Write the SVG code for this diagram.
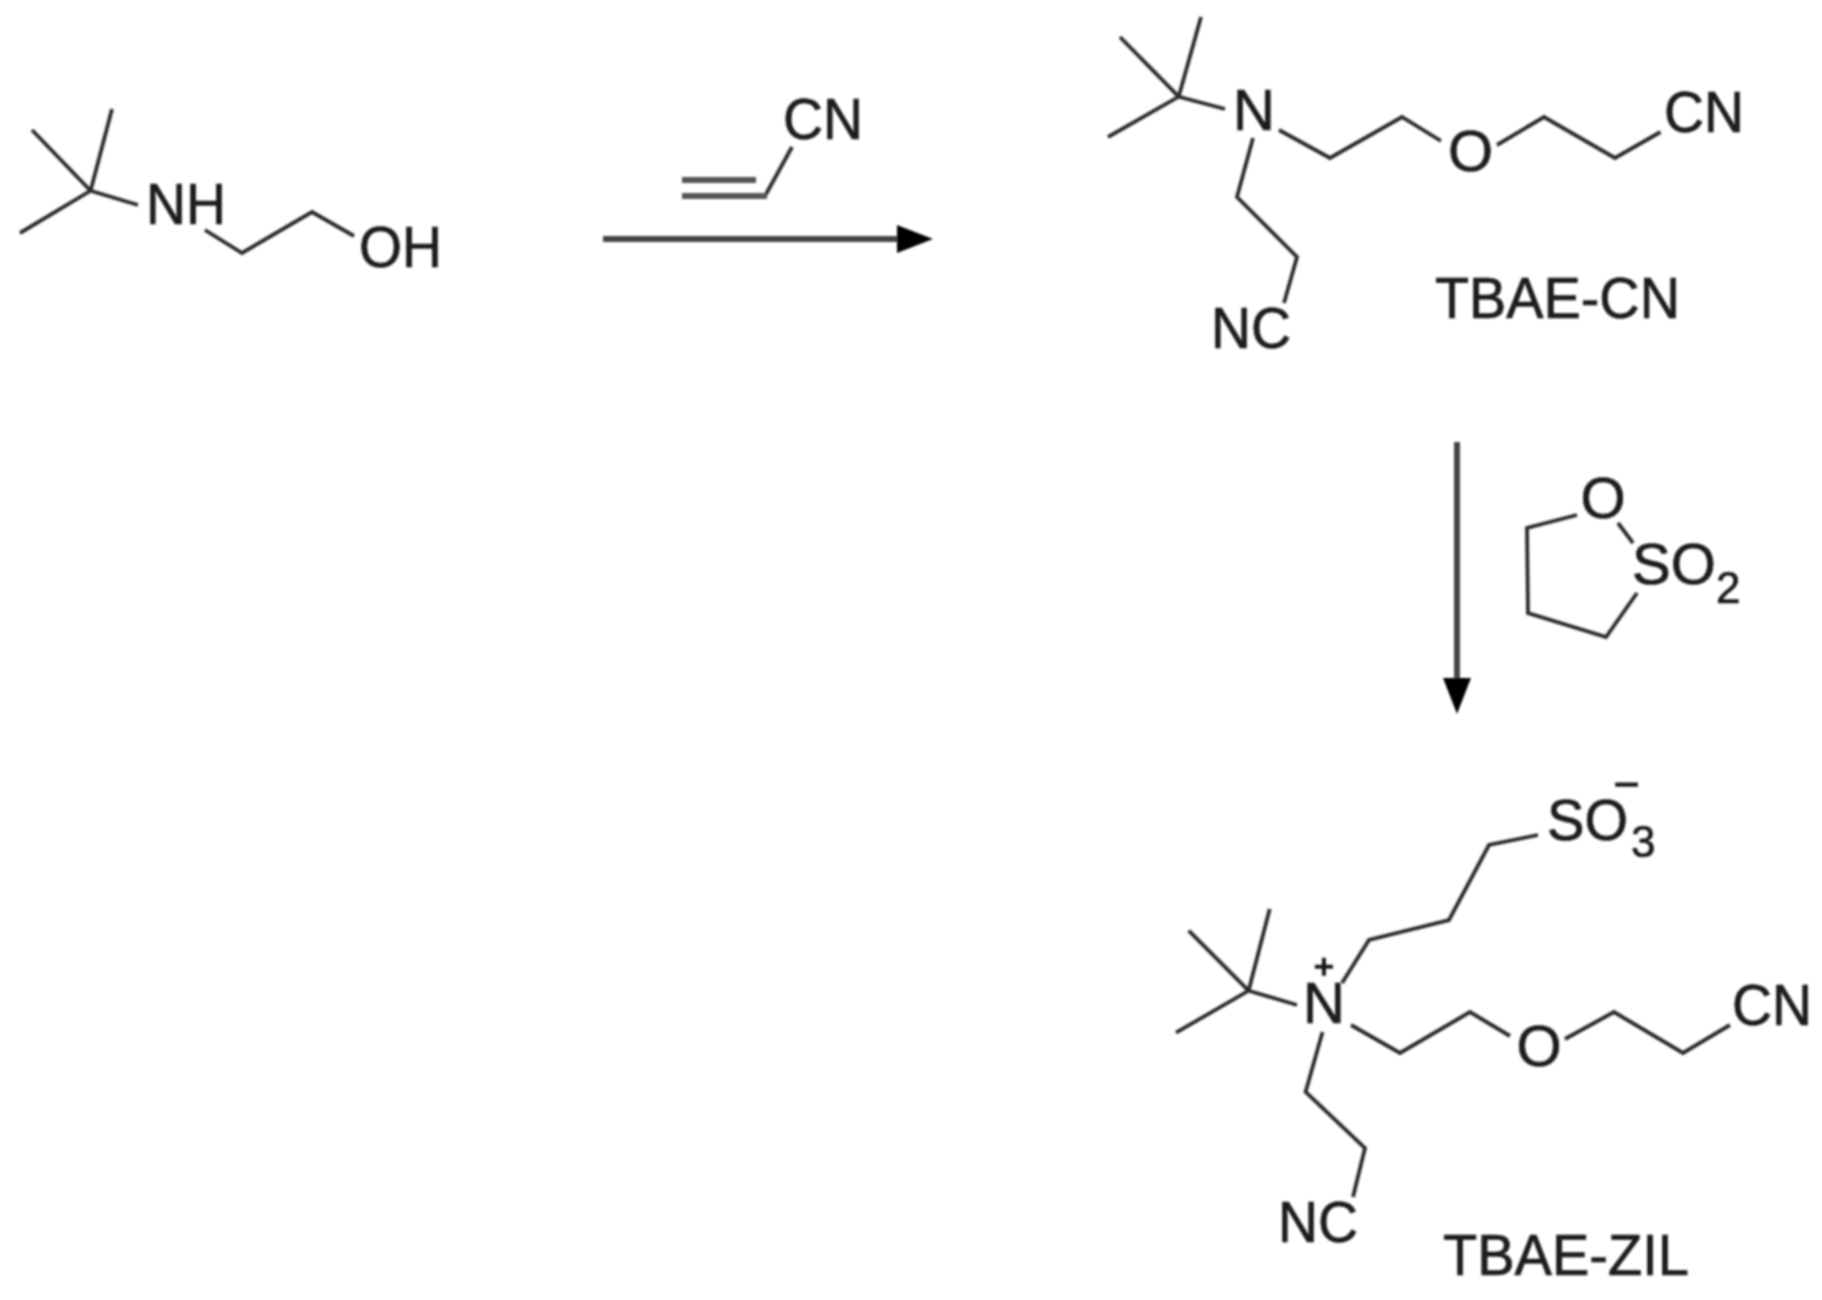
<svg xmlns="http://www.w3.org/2000/svg" width="1822" height="1300" viewBox="0 0 1822 1300">
<style>
text{font-family:"Liberation Sans",Arial,sans-serif;font-size:58px;fill:#1a1a1a;stroke:#1a1a1a;stroke-width:.7}
.sub{font-size:44px}
.mid{text-anchor:middle}
.b{fill:none;stroke:#2a2a2a;stroke-width:3.8;stroke-linejoin:miter;stroke-linecap:butt}
.d{fill:none;stroke:#555;stroke-width:6}
.a{fill:none;stroke:#444;stroke-width:6}
.ch{stroke-width:1.6}
</style>
<defs>
<filter id="soft" x="0" y="0" width="1822" height="1300" filterUnits="userSpaceOnUse"><feGaussianBlur stdDeviation="1.3"/></filter>
<marker id="head" markerUnits="userSpaceOnUse" markerWidth="38" markerHeight="30" refX="0" refY="15" orient="auto"><path d="M0 1L36 15L0 29Z" fill="#000"/></marker>
</defs>
<rect width="1822" height="1300" fill="#fff"/>
<g filter="url(#soft)">
<g id="connectors">
<line class="a" x1="603" y1="239" x2="897" y2="239" marker-end="url(#head)"/>
<line class="a" x1="1457" y1="442" x2="1457" y2="678" marker-end="url(#head)"/>
</g>
<g id="tert-butylaminoethanol">
<path class="b" d="M32 130L90.600 190.700M112 109L90.600 190.700M20 233L90.600 190.700L138 205M205 230L242 253L312 212L354 236"/>
<text x="146" y="224" textLength="80" lengthAdjust="spacingAndGlyphs">NH</text>
<text x="359" y="267" textLength="83" lengthAdjust="spacingAndGlyphs">OH</text>
</g>
<g id="acrylonitrile">
<path class="b" d="M792 147L765 196"/>
<path class="d" d="M767 196H682M682 180H756"/>
<text x="783" y="139" textLength="80" lengthAdjust="spacingAndGlyphs">CN</text>
</g>
<g id="sultone">
<path class="b" d="M1577 515L1527 528L1528 613L1606 637L1637 593M1633 543L1618 523"/>
<text class="mid" x="1603" y="518">O</text>
<text x="1632" y="584">SO</text>
<text class="sub" x="1716" y="603">2</text>
</g>
<g id="tbae-cn">
<path class="b" d="M1120 37L1178.700 96.700M1201 17L1178.700 96.700M1108 137L1178.700 96.700L1225 109M1279 130L1330 158L1402 117L1441 141M1497 145L1544 117L1615 158L1660.500 132M1253 138L1237 197L1297 257L1284 303"/>
<text x="1233" y="130">N</text>
<text class="mid" x="1470.500" y="171">O</text>
<text x="1664" y="132" textLength="80" lengthAdjust="spacingAndGlyphs">CN</text>
<text x="1211" y="348" textLength="80" lengthAdjust="spacingAndGlyphs">NC</text>
<text x="1435" y="318" textLength="245" lengthAdjust="spacingAndGlyphs">TBAE-CN</text>
</g>
<g id="tbae-zil">
<path class="b" d="M1188.700 930.700L1248.600 990.700M1269.700 909L1248.600 990.700M1176 1032.700L1248.600 990.700L1297 1005M1342 983L1369 940L1449 920L1489 845L1538 835M1351 1025L1400 1053L1470 1012L1510 1036M1565 1039L1614 1012L1683 1053L1730 1025M1322.500 1032L1305.600 1092L1365 1148L1353 1197"/>
<text x="1303" y="1023">N</text>
<text class="mid ch" style="font-size:34px" x="1324" y="978">+</text>
<text x="1547" y="840" textLength="81" lengthAdjust="spacingAndGlyphs">SO</text>
<text class="sub" x="1631" y="857">3</text>
<text class="ch" style="font-size:38px" x="1616" y="795">–</text>
<text class="mid" x="1539" y="1066">O</text>
<text x="1732" y="1025" textLength="80" lengthAdjust="spacingAndGlyphs">CN</text>
<text x="1278" y="1242" textLength="80" lengthAdjust="spacingAndGlyphs">NC</text>
<text x="1443" y="1275" textLength="246" lengthAdjust="spacingAndGlyphs">TBAE-ZIL</text>
</g>
</g>
</svg>
